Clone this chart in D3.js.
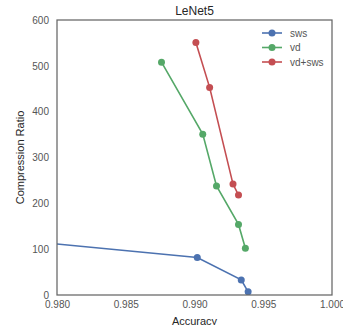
<!DOCTYPE html>
<html>
<head>
<meta charset="utf-8">
<script src="https://cdn.jsdelivr.net/npm/d3@7"></script>
<style>
  body { margin: 0; background: #fff; }
  svg text { font-family: "Liberation Sans", Arial, sans-serif; }
</style>
</head>
<body>
<div id="chart"></div>
<script>
"use strict";

// values (accuracy, compression ratio)
const swsAcc   = [0.9700, 0.9902, 0.9934, 0.9939];
const swsRatio = [140, 82, 33, 7];
const vdAcc    = [0.9876, 0.9906, 0.9916, 0.9932, 0.9937];
const vdRatio  = [508, 351, 238, 154, 102];
const vdswsAcc   = [0.9901, 0.9911, 0.9928, 0.9932];
const vdswsRatio = [551, 453, 242, 218];

const seriesNames = ["sws", "vd", "vd+sws"];
const seriesColors = ["#4C72B0", "#55A868", "#C44E52"];
const xTicks = [0.980, 0.985, 0.990, 0.995, 1.000];
const yTicks = [0, 100, 200, 300, 400, 500, 600];

const series = [
  {name: seriesNames[0], color: seriesColors[0], pts: swsAcc.map((a, i) => ({x: a, y: swsRatio[i]}))},
  {name: seriesNames[1], color: seriesColors[1], pts: vdAcc.map((a, i) => ({x: a, y: vdRatio[i]}))},
  {name: seriesNames[2], color: seriesColors[2], pts: vdswsAcc.map((a, i) => ({x: a, y: vdswsRatio[i]}))}
];

const width = 343, height = 325;
const margins = {top: 20, right: 11, bottom: 30, left: 57};
const w = width - margins.left - margins.right;
const h = height - margins.top - margins.bottom;

const svg = d3.select("#chart").append("svg")
  .attr("width", width)
  .attr("height", height);

const g = svg.append("g")
  .attr("transform", `translate(${margins.left},${margins.top})`);

const xScale = d3.scaleLinear().domain([0.98, 1.0]).range([0, w]);
const yScale = d3.scaleLinear().domain([0, 600]).range([h, 0]);

// clip so the first sws point stays outside
g.append("clipPath").attr("id", "plotClip")
  .append("rect").attr("x", 0).attr("y", 0).attr("width", w).attr("height", h);

// axes (no tick marks, seaborn white look)
const xAxis = d3.axisBottom(xScale).tickValues(xTicks).tickFormat(d3.format(".3f")).tickSize(0).tickPadding(6);
const yAxis = d3.axisLeft(yScale).tickValues(yTicks).tickFormat(d3.format("d")).tickSize(0).tickPadding(8);

g.append("g").attr("class", "xAxis")
  .attr("transform", `translate(0,${h})`)
  .call(xAxis);
g.append("g").attr("class", "yAxis")
  .call(yAxis);

g.selectAll(".xAxis text, .yAxis text")
  .style("font-size", "10px")
  .style("fill", "#555");
g.selectAll(".domain").remove();

// lines and points
const line = d3.line().x(d => xScale(d.x)).y(d => yScale(d.y));
const plot = g.append("g").attr("clip-path", "url(#plotClip)");

series.forEach(s => {
  plot.append("path")
    .attr("d", line(s.pts))
    .attr("fill", "none")
    .attr("stroke", s.color)
    .attr("stroke-width", 1.6);
  plot.selectAll(null).data(s.pts).enter()
    .append("circle")
    .attr("cx", d => xScale(d.x))
    .attr("cy", d => yScale(d.y))
    .attr("r", 3.5)
    .attr("fill", s.color);
});

// frame
g.append("rect")
  .attr("width", w).attr("height", h)
  .attr("fill", "none")
  .attr("stroke", "#666")
  .attr("stroke-width", 1.25);

// title and axis labels
svg.append("text")
  .attr("x", margins.left + w / 2).attr("y", 15)
  .attr("text-anchor", "middle")
  .style("font-size", "12px").style("fill", "#262626")
  .text("LeNet5");

svg.append("text")
  .attr("x", margins.left + w / 2).attr("y", 325)
  .attr("text-anchor", "middle")
  .style("font-size", "11px").style("fill", "#262626")
  .text("Accuracy");

svg.append("text")
  .attr("transform", `translate(24,${margins.top + h / 2})rotate(-90)`)
  .attr("text-anchor", "middle")
  .style("font-size", "11px").style("fill", "#262626")
  .text("Compression Ratio");

// legend
const legend = svg.append("g").attr("transform", "translate(262,33)");
series.forEach((s, i) => {
  const row = legend.append("g").attr("transform", `translate(0,${i * 14.5})`);
  row.append("line").attr("x1", 0).attr("x2", 20).attr("y1", 0).attr("y2", 0)
    .attr("stroke", s.color).attr("stroke-width", 1.6);
  row.append("circle").attr("cx", 10).attr("cy", 0).attr("r", 3.5).attr("fill", s.color);
  row.append("text").attr("x", 28).attr("y", 3.5)
    .style("font-size", "10px").style("fill", "#555")
    .text(s.name);
});
</script>
</body>
</html>
